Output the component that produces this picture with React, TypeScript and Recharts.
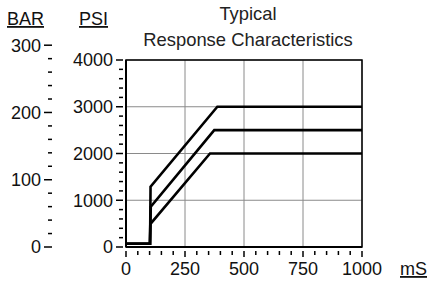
import { LineChart, Line, XAxis, YAxis, CartesianGrid, ReferenceArea } from "recharts";

// time axis (mS)
const TIME_TICKS = [0, 250, 500, 750, 1000];
const TIME_MINOR = [50, 100, 150, 200, 300, 350, 400, 450, 550, 600, 650, 700, 800, 850, 900, 950];

// pressure axes
const PSI_TICKS = [0, 1000, 2000, 3000, 4000];
const PSI_MINOR = [
  200, 400, 600, 800, 1200, 1400, 1600, 1800, 2200, 2400, 2600, 2800, 3200, 3400, 3600, 3800,
];
const BAR_TICKS = [0, 100, 200, 300];
const BAR_MINOR = [20, 40, 60, 80, 120, 140, 160, 180, 220, 240, 260, 280];
const BAR_MAX = 278;

// response curves (t in mS, p in PSI)
const highCurve = [
  { t: 0, p: 70 },
  { t: 102, p: 70 },
  { t: 104, p: 1290 },
  { t: 387, p: 3000 },
  { t: 1000, p: 3000 },
];
const midCurve = [
  { t: 0, p: 70 },
  { t: 102, p: 70 },
  { t: 105, p: 860 },
  { t: 374, p: 2500 },
  { t: 1000, p: 2500 },
];
const lowCurve = [
  { t: 0, p: 70 },
  { t: 101, p: 70 },
  { t: 103, p: 490 },
  { t: 356, p: 2000 },
  { t: 1000, p: 2000 },
];

const FONT = "'Liberation Sans', Arial, sans-serif";
const INK = "#111";

// left-axis tick: major ticks get a label, minor ticks only a short dash
function leftTick(majors: number[], gap: number, majorLen: number, minorLen: number) {
  return (props: any) => {
    const { x, y, payload } = props;
    const major = majors.includes(payload.value);
    const len = major ? majorLen : minorLen;
    return (
      <g>
        <line x1={x - gap - len} x2={x - gap} y1={y} y2={y} stroke="#000" strokeWidth={1.5} />
        {major && (
          <text
            x={x - gap - majorLen - 3}
            y={y}
            dy="0.36em"
            textAnchor="end"
            fontSize={18}
            fill={INK}
            fontFamily={FONT}
          >
            {payload.value}
          </text>
        )}
      </g>
    );
  };
}

function bottomTick(props: any) {
  const { x, y, payload } = props;
  const major = TIME_TICKS.includes(payload.value);
  return (
    <g>
      <line x1={x} x2={x} y1={y + 4} y2={y + (major ? 10 : 8)} stroke="#000" strokeWidth={1.5} />
      {major && (
        <text x={x} y={y + 15} dy="0.71em" textAnchor="middle" fontSize={18} fill={INK} fontFamily={FONT}>
          {payload.value}
        </text>
      )}
    </g>
  );
}

export default function App() {
  return (
    <div style={{ position: "absolute", left: 0, top: 0, width: 432, height: 285, background: "#fff" }}>
      <LineChart width={432} height={285} margin={{ top: 60, right: 70, bottom: 0, left: 0 }}>
        <CartesianGrid
          xAxisId="t"
          yAxisId="b_psi"
          horizontalValues={PSI_TICKS}
          verticalValues={TIME_TICKS}
          stroke="#8a8a8a"
          strokeWidth={1}
        />
        <XAxis
          xAxisId="t"
          type="number"
          dataKey="t"
          domain={[0, 1000]}
          ticks={[...TIME_TICKS, ...TIME_MINOR]}
          interval={0}
          height={38}
          tickSize={0}
          tickMargin={0}
          tick={bottomTick}
          tickLine={false}
          axisLine={{ stroke: "#000", strokeWidth: 2 }}
        />
        <YAxis
          yAxisId="d_bar"
          type="number"
          domain={[0, BAR_MAX]}
          allowDataOverflow
          ticks={[...BAR_TICKS, ...BAR_MINOR]}
          interval={0}
          width={52}
          tickSize={0}
          tickMargin={0}
          tick={leftTick(BAR_TICKS, 0, 8, 4)}
          tickLine={false}
          axisLine={false}
        />
        <YAxis
          yAxisId="b_psi"
          type="number"
          domain={[0, 4000]}
          ticks={[...PSI_TICKS, ...PSI_MINOR]}
          interval={0}
          width={74}
          tickSize={0}
          tickMargin={0}
          tick={leftTick(PSI_TICKS, 3, 7, 4)}
          tickLine={false}
          axisLine={{ stroke: "#000", strokeWidth: 2 }}
        />
        <ReferenceArea
          xAxisId="t"
          yAxisId="b_psi"
          x1={0}
          x2={1000}
          y1={0}
          y2={4000}
          fill="none"
          fillOpacity={0}
          stroke="#000"
          strokeWidth={1.5}
        />
        {[highCurve, midCurve, lowCurve].map((d, i) => (
          <Line
            key={i}
            xAxisId="t"
            yAxisId="b_psi"
            data={d}
            dataKey="p"
            type="linear"
            stroke="#000"
            strokeWidth={2.6}
            dot={false}
            activeDot={false}
            isAnimationActive={false}
          />
        ))}
      </LineChart>
      <svg
        width={432}
        height={285}
        style={{ position: "absolute", left: 0, top: 0, pointerEvents: "none", fontFamily: FONT }}
      >
        <text x={7} y={25} fontSize={18} fill={INK} style={{ textDecoration: "underline" }}>
          BAR
        </text>
        <text x={79} y={25} fontSize={18} fill={INK} style={{ textDecoration: "underline" }}>
          PSI
        </text>
        <text x={248} y={20} fontSize={18.4} fill="#222" textAnchor="middle">
          Typical
        </text>
        <text x={248} y={46} fontSize={18.4} fill="#222" textAnchor="middle">
          Response Characteristics
        </text>
        <text x={400} y={275} fontSize={18} fill={INK} style={{ textDecoration: "underline" }}>
          mS
        </text>
      </svg>
    </div>
  );
}
